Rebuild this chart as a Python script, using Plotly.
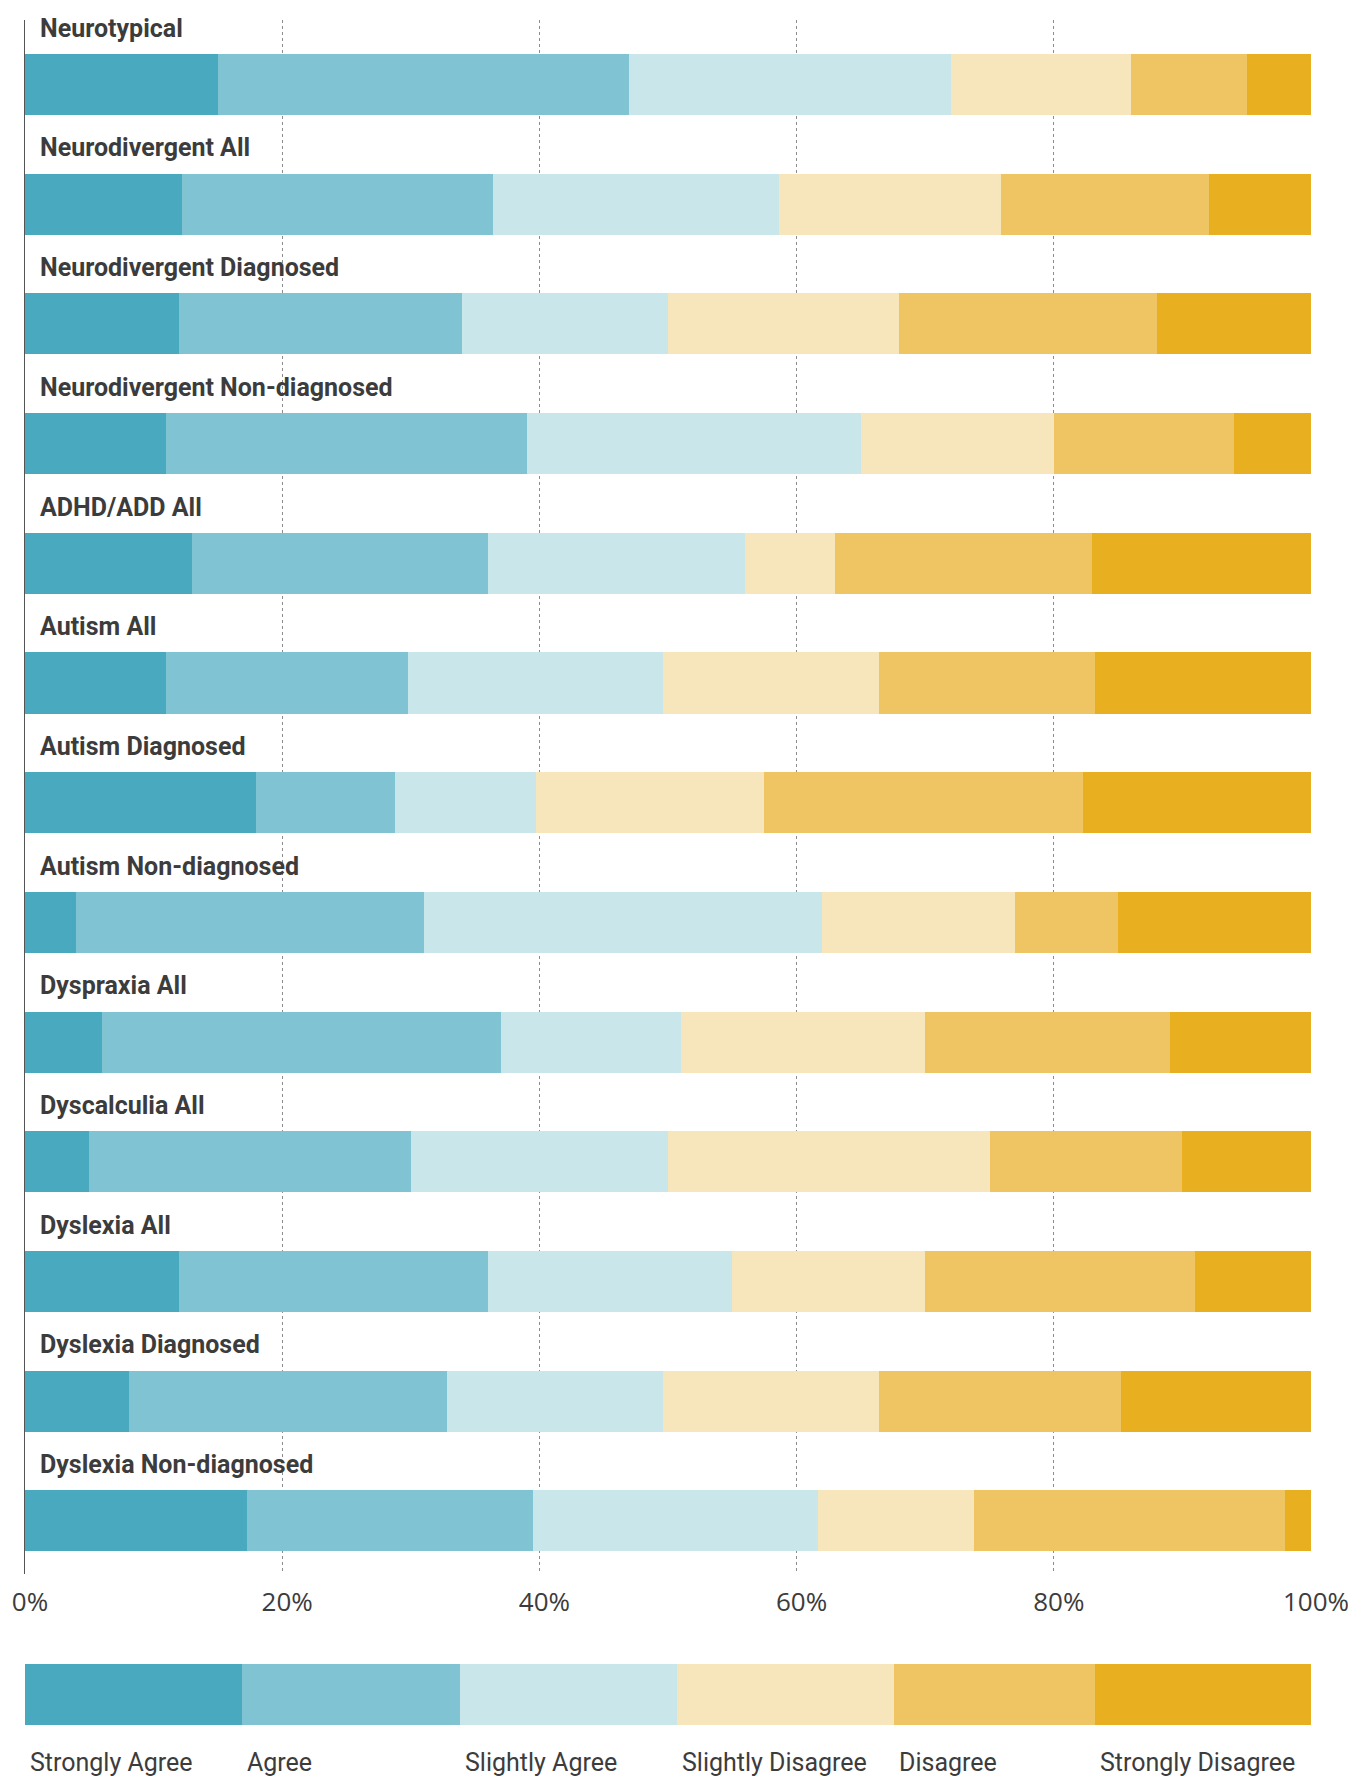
import plotly.graph_objects as go

# ---- data ----
categories = [
    "Neurotypical", "Neurodivergent All", "Neurodivergent Diagnosed",
    "Neurodivergent Non-diagnosed", "ADHD/ADD All", "Autism All",
    "Autism Diagnosed", "Autism Non-diagnosed", "Dyspraxia All",
    "Dyscalculia All", "Dyslexia All", "Dyslexia Diagnosed",
    "Dyslexia Non-diagnosed",
]
levels = ["Strongly Agree", "Agree", "Slightly Agree",
          "Slightly Disagree", "Disagree", "Strongly Disagree"]

strongly_agree    = [15, 12.2, 12, 11, 13, 11.0, 18.0, 4, 6, 5, 12, 8.1, 17.3]
agree             = [32, 24.2, 22, 28, 23, 18.8, 10.8, 27, 31, 25, 24, 24.7, 22.2]
slightly_agree    = [25, 22.2, 16, 26, 20, 19.8, 10.9, 31, 14, 20, 19, 16.8, 22.2]
slightly_disagree = [14, 17.3, 18, 15, 7, 16.8, 17.8, 15, 19, 25, 15, 16.8, 12.1]
disagree          = [9, 16.2, 20, 14, 20, 16.8, 24.8, 8, 19, 15, 21, 18.8, 24.2]
strongly_disagree = [5, 7.9, 12, 6, 17, 16.8, 17.7, 15, 11, 10, 9, 14.8, 2.0]

legend_widths = [16.9, 16.9, 16.9, 16.9, 15.6, 16.8]

tick_values = [0, 20, 40, 60, 80, 100]
tick_labels = ["0%", "20%", "40%", "60%", "80%", "100%"]

colors = ["#48a9bf", "#80c3d3", "#c9e6eb", "#f7e6bb", "#efc564", "#e8af21"]

# ---- figure ----
W, H = 1348, 1779
FONT = "Roboto, 'Liberation Sans', Arial, sans-serif"
TICK_FONT = "'Open Sans', Roboto, Arial, sans-serif"
TXT = "#3c3c3c"

series = [strongly_agree, agree, slightly_agree,
          slightly_disagree, disagree, strongly_disagree]
rows = list(range(len(categories)))

fig = go.Figure()
for name, vals, col in zip(levels, series, colors):
    fig.add_trace(go.Bar(
        y=rows, x=vals, orientation="h", name=name, width=0.51,
        marker=dict(color=col, line=dict(width=0)),
        showlegend=False, hovertemplate=name + ": %{x}%<extra></extra>",
    ))

# legend bar
for name, w, col in zip(levels, legend_widths, colors):
    fig.add_trace(go.Bar(
        y=[0], x=[w], orientation="h", name=name, width=1,
        xaxis="x2", yaxis="y2",
        marker=dict(color=col, line=dict(width=0)),
        showlegend=False, hoverinfo="skip",
    ))

annotations = []
for i, cat in enumerate(categories):
    annotations.append(dict(
        x=0, y=i - 0.47, xref="x", yref="y", text="<b>" + cat + "</b>",
        showarrow=False, xanchor="left", yanchor="middle", xshift=13,
        font=dict(family=FONT, size=25, color=TXT),
    ))

cum = 0
for name, w in zip(levels, legend_widths):
    annotations.append(dict(
        x=cum, y=-0.62, xref="x2", yref="y2 domain", text=name,
        showarrow=False, xanchor="left", yanchor="middle", xshift=3,
        font=dict(family=FONT, size=25, color=TXT),
    ))
    cum += w

top_px, bot_px = 20, 1574
row0_px, pitch = 84.5, 119.7
xdom = [25 / W, 1311 / W]
leg_top, leg_bot = 1664, 1725

fig.update_layout(
    width=W, height=H, autosize=False, barmode="stack", bargap=0,
    margin=dict(l=0, r=0, t=0, b=0, pad=0, autoexpand=False),
    paper_bgcolor="white", plot_bgcolor="white",
    font=dict(family=FONT, color=TXT),
    annotations=annotations,
    xaxis=dict(
        domain=xdom, range=[0, 100], anchor="y", automargin=False,
        tickvals=tick_values, ticktext=tick_labels,
        tickfont=dict(family=TICK_FONT, size=26, color=TXT),
        showgrid=True, gridcolor="#8c8c8c", griddash="dot", gridwidth=1,
        zeroline=False, showline=False, ticks="",
        ticklabelstandoff=10, ticklabelshift=5, ticklabeloverflow="allow",
    ),
    yaxis=dict(
        domain=[1 - bot_px / H, 1 - top_px / H], automargin=False,
        range=[(bot_px - row0_px) / pitch, (top_px - row0_px) / pitch],
        showticklabels=False, showgrid=False, zeroline=False,
        showline=True, linecolor="#555555", linewidth=1, ticks="",
    ),
    xaxis2=dict(domain=xdom, range=[0, 100], anchor="y2", visible=False,
                automargin=False),
    yaxis2=dict(domain=[1 - leg_bot / H, 1 - leg_top / H], range=[-0.5, 0.5],
                anchor="x2", visible=False, automargin=False),
)

fig.write_html(
    "out.html",
    config={"responsive": False, "displayModeBar": False},
    post_script="document.body.style.margin='0';"
                "document.body.style.overflow='hidden';",
)
